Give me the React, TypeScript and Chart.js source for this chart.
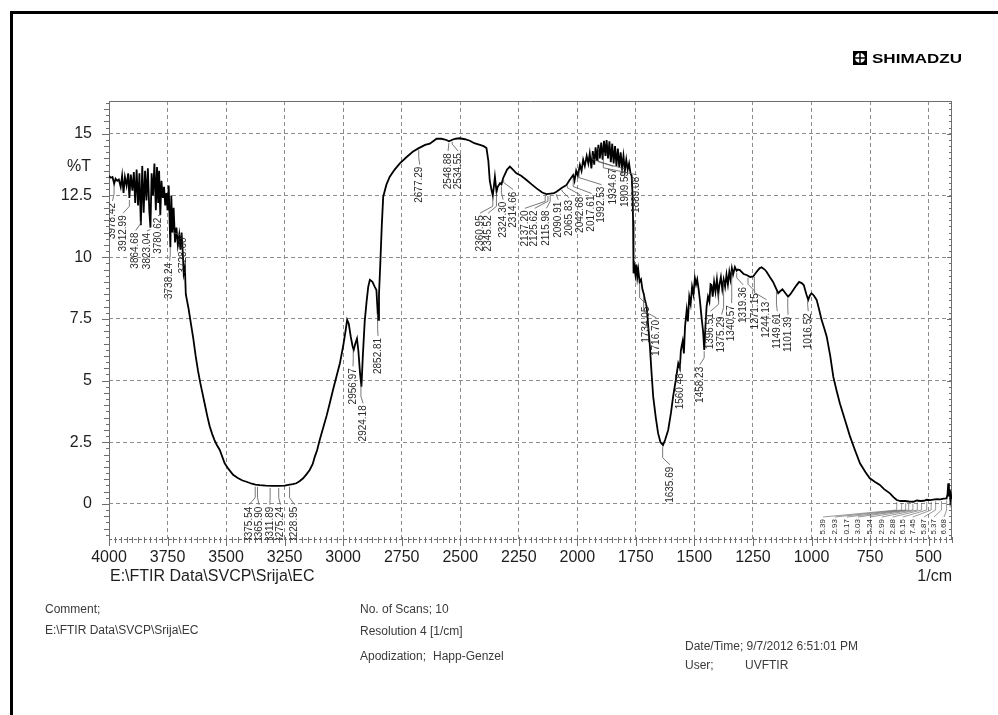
import React, { useEffect, useRef } from "react";
import { Chart, registerables } from "chart.js";
Chart.register(...registerables);

const FONT = "'Liberation Sans', Arial, sans-serif";

// ---- spectrum data: [wavenumber (1/cm), %T] ----
const highNoise: [number, number][] = [
  [4000, 13.3], [3992, 13.22], [3985, 13.25], [3978, 12.98], [3972, 13.18], [3965, 13.1], [3958, 13.15], [3950, 12.85],
  [3944, 13.3], [3938, 12.6], [3932, 13.25], [3925, 12.9], [3918, 13.4], [3913, 12.4], [3907, 13.35], [3900, 12.7],
  [3894, 13.45], [3888, 12.2], [3882, 13.55], [3876, 12.1], [3870, 13.4], [3864, 11.3], [3858, 13.7], [3852, 11.8],
  [3846, 13.5], [3840, 12.3], [3834, 13.6], [3828, 11.9], [3823, 11.2], [3818, 13.4], [3812, 12.5], [3806, 13.8],
  [3800, 11.9], [3795, 13.65], [3790, 12.2], [3786, 13.5], [3781, 11.7], [3776, 13.1], [3770, 12.4], [3765, 12.85],
  [3760, 12.1], [3755, 12.6], [3750, 11.9], [3745, 12.9], [3738, 10.4], [3734, 12.5], [3729, 11.0], [3724, 12.0],
  [3718, 10.6], [3712, 11.2], [3706, 10.5], [3700, 10.9], [3695, 10.3], [3690, 11.0],
];
const ohBand: [number, number][] = [
  [3685, 10.2], [3681, 9.35], [3676, 9.6], [3672, 8.5], [3668, 8.3], [3660, 7.9], [3650, 7.3], [3640, 6.7],
  [3630, 6.0], [3620, 5.4], [3610, 4.9], [3600, 4.45], [3590, 4.0], [3580, 3.55], [3570, 3.15], [3560, 2.85],
  [3550, 2.6], [3540, 2.4], [3527, 2.19], [3506, 1.65], [3490, 1.42], [3470, 1.18], [3450, 1.05], [3430, 0.95],
  [3413, 0.9], [3390, 0.82], [3375, 0.78], [3356, 0.76], [3330, 0.74], [3300, 0.73], [3275, 0.73], [3250, 0.74],
  [3228, 0.78], [3215, 0.8], [3200, 0.84], [3185, 0.93], [3171, 1.04], [3157, 1.2], [3143, 1.38], [3130, 1.62],
  [3121, 1.92], [3111, 2.19], [3100, 2.6], [3085, 3.1], [3070, 3.6], [3057, 4.09], [3040, 4.75], [3025, 5.3],
  [3014, 5.7], [3000, 6.4], [2990, 7.0],
];
const chBand: [number, number][] = [
  [2983, 7.46], [2976, 7.3], [2968, 6.8], [2960, 6.4], [2955, 6.24], [2948, 6.5], [2941, 6.7], [2935, 6.2],
  [2928, 5.3], [2922, 4.75], [2916, 6.0], [2908, 7.4], [2900, 8.2], [2893, 8.8], [2886, 9.08], [2875, 9.0],
  [2865, 8.8], [2858, 8.67], [2854, 8.0], [2851, 7.46], [2847, 8.5], [2842, 9.6], [2835, 11.3], [2829, 12.45],
  [2815, 12.95], [2801, 13.26],
];
const plateau: [number, number][] = [
  [2780, 13.55], [2758, 13.8], [2730, 14.05], [2703, 14.27], [2677, 14.42], [2650, 14.55], [2630, 14.6], [2601, 14.8],
  [2580, 14.8], [2559, 14.75], [2548, 14.7], [2534, 14.76], [2520, 14.8], [2502, 14.82], [2480, 14.78], [2459, 14.72],
  [2440, 14.62], [2416, 14.55], [2400, 14.5], [2388, 14.42],
];
const co2Region: [number, number][] = [
  [2380, 13.9], [2374, 13.1], [2366, 12.7], [2361, 12.5], [2356, 12.9], [2352, 13.26], [2348, 12.9], [2345, 12.65],
  [2340, 12.85], [2330, 13.0], [2324, 12.95], [2317, 13.2], [2310, 13.35], [2300, 13.55], [2288, 13.67], [2275, 13.55],
  [2260, 13.4], [2240, 13.3], [2217, 13.13], [2195, 12.95], [2174, 12.79], [2150, 12.62], [2132, 12.56], [2115, 12.58],
  [2100, 12.6], [2089, 12.65], [2070, 12.78], [2060, 12.85], [2046, 12.93], [2035, 13.1], [2018, 13.33], [2012, 13.1],
  [2005, 13.5], [1998, 13.3], [1989, 13.74], [1982, 13.5], [1975, 13.95], [1968, 13.7], [1960, 14.1], [1953, 13.8],
  [1947, 14.2],
];
const overtoneNoise: [number, number][] = [
  [1940, 13.6], [1934, 14.3], [1928, 13.75], [1922, 14.45], [1916, 13.9], [1910, 14.55], [1904, 14.0], [1898, 14.65],
  [1892, 13.95], [1886, 14.72], [1880, 14.1], [1875, 14.75], [1869, 14.0], [1863, 14.7], [1857, 13.85], [1851, 14.6],
  [1845, 13.8], [1839, 14.5], [1833, 13.7], [1827, 14.4], [1821, 13.65], [1815, 14.25], [1809, 13.6], [1803, 14.1],
  [1797, 13.5], [1791, 13.95], [1785, 13.55], [1779, 13.8], [1773, 13.4], [1768, 13.3],
];
const carbonyl: [number, number][] = [
  [1764, 12.5], [1762, 11.5], [1760, 9.35], [1756, 9.6], [1752, 9.3], [1748, 9.7], [1744, 9.2], [1740, 9.5],
  [1734, 9.0], [1728, 9.1], [1722, 8.7], [1716, 8.5], [1712, 8.3], [1704, 8.0], [1698, 7.3], [1690, 6.37],
  [1683, 5.3], [1676, 4.35], [1665, 3.5], [1655, 2.86], [1645, 2.5], [1634, 2.39], [1625, 2.6], [1612, 3.0],
  [1600, 3.7], [1591, 4.35], [1580, 5.0], [1569, 5.7], [1562, 5.5], [1558, 6.2], [1555, 6.37], [1550, 6.6],
  [1545, 6.1], [1540, 7.2], [1533, 7.86], [1528, 7.4], [1522, 8.4], [1516, 8.1], [1510, 8.8], [1504, 8.5],
  [1498, 9.15], [1493, 8.9], [1488, 9.1], [1482, 8.7], [1476, 8.2], [1470, 7.6], [1463, 7.0], [1458, 6.24],
  [1453, 7.2], [1448, 8.0],
];
const fingerprint: [number, number][] = [
  [1442, 8.4], [1436, 8.2], [1431, 8.9], [1427, 8.87], [1422, 8.4], [1416, 9.0], [1410, 8.6], [1404, 9.1],
  [1398, 8.5], [1393, 8.9], [1387, 9.2], [1381, 8.7], [1375, 9.1], [1369, 8.8], [1363, 9.3], [1357, 8.9],
  [1351, 9.4], [1346, 9.1], [1340, 9.55], [1335, 9.3], [1327, 9.6], [1320, 9.45], [1315, 9.5], [1306, 9.48],
  [1290, 9.32], [1277, 9.28], [1262, 9.2], [1249, 9.22], [1235, 9.4], [1222, 9.55], [1213, 9.59], [1200, 9.5],
  [1192, 9.41], [1178, 9.2], [1164, 9.0], [1152, 8.75], [1142, 8.54], [1134, 8.62], [1124, 8.7], [1112, 8.55],
  [1100, 8.4], [1090, 8.5], [1078, 8.67], [1065, 8.85], [1053, 9.0], [1042, 8.95], [1033, 8.87], [1022, 8.5],
  [1014, 8.27], [1007, 8.45], [1000, 8.54], [990, 8.45], [978, 8.27], [968, 7.9], [957, 7.46], [945, 7.1],
  [935, 6.78],
];
const tail: [number, number][] = [
  [920, 6.0], [907, 5.16], [893, 4.6], [879, 4.08], [857, 3.4], [836, 2.75], [815, 2.2], [793, 1.65],
  [770, 1.3], [751, 1.04], [730, 0.9], [708, 0.77], [690, 0.6], [665, 0.43], [650, 0.28], [636, 0.16],
  [620, 0.12], [600, 0.12], [585, 0.1], [565, 0.09], [550, 0.14], [535, 0.12], [520, 0.13], [508, 0.17],
  [494, 0.16], [480, 0.18], [465, 0.2], [450, 0.19], [436, 0.22], [423, 0.23], [419, 0.4], [416, 0.84],
  [413, 0.3], [410, 0.6], [407, 0.16], [404, 0.35], [401, 0.2],
];

const spectrum: [number, number][] = [
  ...highNoise, ...ohBand, ...chBand, ...plateau, ...co2Region, ...overtoneNoise, ...carbonyl, ...fingerprint, ...tail,
];

// ---- axes ----
const xTickValues = [4000, 3750, 3500, 3250, 3000, 2750, 2500, 2250, 2000, 1750, 1500, 1250, 1000, 750, 500];
const yTickValues = [0, 2.5, 5, 7.5, 10, 12.5, 15];
const xMin = 400, xMax = 4000, yMin = -1.46, yMax = 16.33;

// ---- peak labels ----
const peakLabelText = [
  "3978.42", "3912.99", "3864.68", "3823.04", "3780.62", "3738.24", "3728.60",
  "3375.54", "3365.90", "3311.89", "3275.24", "3228.95",
  "2956.97", "2924.18", "2852.81",
  "2677.29", "2548.88", "2534.55",
  "2360.95", "2345.52", "2324.30", "2314.66",
  "2137.20", "2125.62", "2115.98", "2090.91", "2065.83", "2042.68", "2017.61", "1992.53", "1934.67", "1909.59", "1889.08",
  "1734.05", "1716.70", "1635.69", "1560.48", "1458.23",
  "1396.51", "1375.29", "1340.57", "1319.36", "1271.15", "1244.13", "1149.61", "1101.39", "1016.52",
];
const peakLabelPosWn = [
  3985, 3940, 3886, 3838, 3791, 3741, 3684,
  3402, 3359, 3313, 3268, 3207,
  2958, 2915, 2851,
  2673, 2552, 2509,
  2416, 2381, 2317, 2274,
  2224, 2182, 2132, 2082, 2035, 1989, 1939, 1897, 1847, 1797, 1747,
  1704, 1662, 1605, 1562, 1477,
  1431, 1384, 1341, 1292, 1242, 1192, 1146, 1100, 1014,
];
const peakLabelTopT = [
  12.2, 11.7, 11.0, 10.98, 11.6, 9.77, 10.8,
  -0.11, -0.11, -0.11, -0.11, -0.11,
  5.5, 4.0, 6.73,
  13.67, 14.22, 14.22,
  11.7, 11.7, 12.25, 12.66,
  11.9, 11.9, 11.9, 12.25, 12.32, 12.45, 12.5, 12.86, 13.6, 13.5, 13.26,
  8.0, 7.46, 1.51, 5.3, 5.56,
  7.73, 7.6, 8.06, 8.8, 8.54, 8.2, 7.73, 7.59, 7.73,
];

// small (clipped) labels of the low-frequency end
const tailLabelText = ["5.39", "2.93", "0.17", "3.03", "5.24", "2.99", "2.88", "6.15", "7.45", "5.87", "5.37", "6.68"];
const tailLabelPeakWn = [636, 615, 598, 585, 567, 548, 530, 508, 489, 470, 445, 423];
const tailLabelPosWn = [951, 900, 849, 802, 751, 700, 653, 610, 568, 520, 477, 434];
const tailLabelTopT = -0.61;

function tAt(wn: number): number {
  for (let i = 0; i < spectrum.length - 1; i++) {
    const [w0, t0] = spectrum[i];
    const [w1, t1] = spectrum[i + 1];
    if (wn <= w0 && wn >= w1) {
      const f = (w0 - wn) / (w0 - w1 || 1);
      return t0 + (t1 - t0) * f;
    }
  }
  return spectrum[spectrum.length - 1][1];
}

function line(ctx: CanvasRenderingContext2D, x0: number, y0: number, x1: number, y1: number) {
  ctx.beginPath();
  ctx.moveTo(x0, y0);
  ctx.lineTo(x1, y1);
  ctx.stroke();
}

function drawPeakLabel(ctx: CanvasRenderingContext2D, text: string, px: number, py: number, lx: number, ly: number) {
  const y0 = py + 2;
  const y1 = ly - 2;
  ctx.beginPath();
  ctx.moveTo(px, y0);
  if (y1 - 7 > y0) ctx.lineTo(px, y1 - 7);
  ctx.lineTo(lx, y1);
  ctx.stroke();
  ctx.save();
  ctx.translate(lx, ly);
  ctx.rotate(-Math.PI / 2);
  ctx.textAlign = "right";
  ctx.textBaseline = "middle";
  ctx.fillText(text, 0, 0);
  ctx.restore();
}

const decorPlugin = {
  id: "decor",
  beforeDatasetsDraw(chart: any) {
    const { ctx, chartArea: a, scales } = chart;
    const x = scales.x, y = scales.y;
    ctx.save();
    ctx.strokeStyle = "#6e6e6e";
    ctx.lineWidth = 1;
    line(ctx, a.left + 0.5, a.top, a.left + 0.5, a.bottom);
    line(ctx, a.right - 0.5, a.top, a.right - 0.5, a.bottom);
    line(ctx, a.left, a.top + 0.5, a.right, a.top + 0.5);
    ctx.setLineDash([3, 2]);
    line(ctx, a.left, a.bottom - 0.5, a.right, a.bottom - 0.5);
    ctx.setLineDash([]);
    for (let k = -5; k <= 65; k++) {
      const v = k * 0.25;
      if (v < yMin || v > yMax) continue;
      const py = Math.round(y.getPixelForValue(v)) + 0.5;
      const major = k % 10 === 0;
      const mid = k % 2 === 0;
      const len = major ? 7 : mid ? 5 : 3;
      line(ctx, a.left - len, py, a.left, py);
      line(ctx, a.right - (major ? 5 : 3), py, a.right, py);
    }
    for (let v = xMin; v <= xMax; v += 25) {
      const px = Math.round(x.getPixelForValue(v)) + 0.5;
      const major = v % 250 === 0;
      line(ctx, px, a.bottom - 3, px, a.bottom + (major ? 6 : 3));
    }
    ctx.restore();
  },
  afterDatasetsDraw(chart: any) {
    const { ctx, chartArea: a, scales } = chart;
    const x = scales.x, y = scales.y;
    ctx.save();
    ctx.beginPath();
    ctx.rect(a.left, a.top, a.right - a.left, a.bottom - a.top);
    ctx.clip();
    ctx.strokeStyle = "#555";
    ctx.lineWidth = 0.8;
    ctx.fillStyle = "#2a2a2a";
    ctx.font = `10px ${FONT}`;
    peakLabelText.forEach((txt, i) => {
      const wn = parseFloat(txt);
      const px = x.getPixelForValue(wn);
      const py = y.getPixelForValue(tAt(wn));
      const lx = x.getPixelForValue(peakLabelPosWn[i]);
      const ly = y.getPixelForValue(peakLabelTopT[i]);
      drawPeakLabel(ctx, txt, px, py, lx, ly);
    });
    ctx.font = `8px ${FONT}`;
    ctx.lineWidth = 0.6;
    tailLabelText.forEach((txt, i) => {
      const wn = tailLabelPeakWn[i];
      const px = x.getPixelForValue(wn);
      const py = y.getPixelForValue(tAt(wn));
      const lx = x.getPixelForValue(tailLabelPosWn[i]);
      const ly = y.getPixelForValue(tailLabelTopT);
      drawPeakLabel(ctx, txt, px, py, lx, ly);
    });
    ctx.restore();
  },
  afterDraw(chart: any) {
    const { ctx, chartArea: a } = chart;
    ctx.save();
    ctx.fillStyle = "#000";
    ctx.fillRect(10, 11, 3, 715);
    ctx.fillRect(10, 11, 998, 3);

    ctx.fillStyle = "#1e1e1e";
    ctx.textBaseline = "middle";
    ctx.font = `16px ${FONT}`;
    ctx.textAlign = "center";
    ctx.fillText("%T", 79, 167);
    ctx.textAlign = "left";
    ctx.fillText("E:\\FTIR Data\\SVCP\\Srija\\EC", a.left + 1, 577);
    ctx.textAlign = "right";
    ctx.fillText("1/cm", a.right, 577);

    ctx.fillStyle = "#3a3a3a";
    ctx.font = `12px ${FONT}`;
    ctx.textAlign = "left";
    ctx.fillText("Comment;", 45, 610);
    ctx.fillText("E:\\FTIR Data\\SVCP\\Srija\\EC", 45, 631);
    ctx.fillText("No. of Scans; 10", 360, 610);
    ctx.fillText("Resolution", 360, 632);
    ctx.fillText("4 [1/cm]", 420, 632);
    ctx.fillText("Apodization;", 360, 657);
    ctx.fillText("Happ-Genzel", 433, 657);
    ctx.fillText("Date/Time; 9/7/2012 6:51:01 PM", 685, 647);
    ctx.fillText("User;", 685, 666);
    ctx.fillText("UVFTIR", 745, 666);

    ctx.fillStyle = "#000";
    ctx.fillRect(853, 51, 14, 14);
    ctx.fillStyle = "#fff";
    ctx.beginPath();
    ctx.arc(860, 58, 5, 0, Math.PI * 2);
    ctx.fill();
    ctx.strokeStyle = "#000";
    ctx.lineWidth = 1.5;
    line(ctx, 855, 58, 865, 58);
    line(ctx, 860, 53, 860, 63);
    ctx.fillStyle = "#000";
    ctx.font = `bold 13px ${FONT}`;
    ctx.textAlign = "left";
    const w = ctx.measureText("SHIMADZU").width;
    ctx.translate(872, 58);
    ctx.scale(90 / w, 1);
    ctx.fillText("SHIMADZU", 0, 1);
    ctx.restore();
  },
};

export default function App() {
  const ref = useRef<HTMLCanvasElement>(null);
  useEffect(() => {
    if (!ref.current) return;
    const chart = new Chart(ref.current, {
      type: "line",
      data: {
        datasets: [
          {
            data: spectrum.map(([wn, t]) => ({ x: wn, y: t })),
            borderColor: "#000",
            borderWidth: 1.8,
            pointRadius: 0,
            tension: 0,
            fill: false,
          },
        ],
      },
      options: {
        animation: false,
        responsive: false,
        devicePixelRatio: 1,
        events: [],
        layout: { padding: { left: 0, top: 101, right: 46, bottom: 115 } },
        plugins: { legend: { display: false }, tooltip: { enabled: false } },
        scales: {
          x: {
            type: "linear",
            reverse: true,
            min: xMin,
            max: xMax,
            afterBuildTicks: (s: any) => {
              s.ticks = xTickValues.map((v) => ({ value: v }));
            },
            afterFit: (s: any) => {
              s.height = 60;
            },
            ticks: {
              color: "#1e1e1e",
              font: { family: FONT, size: 16 },
              padding: 8,
              maxRotation: 0,
              autoSkip: false,
              callback: (v: any) => String(v),
            },
            grid: { color: "#8c8c8c", lineWidth: 1, drawTicks: false },
            border: { display: false, dash: [4, 3] },
          },
          y: {
            type: "linear",
            min: yMin,
            max: yMax,
            afterBuildTicks: (s: any) => {
              s.ticks = yTickValues.map((v) => ({ value: v }));
            },
            afterFit: (s: any) => {
              s.width = 109;
            },
            ticks: {
              color: "#1e1e1e",
              font: { family: FONT, size: 16 },
              padding: 17,
              autoSkip: false,
              callback: (v: any) => String(v),
            },
            grid: { color: "#8c8c8c", lineWidth: 1, drawTicks: false },
            border: { display: false, dash: [4, 3] },
          },
        },
      },
      plugins: [decorPlugin],
    } as any);
    return () => chart.destroy();
  }, []);
  return (
    <div style={{ position: "absolute", left: 0, top: 0, width: 998, height: 715, background: "#fff", overflow: "hidden" }}>
      <canvas ref={ref} width={998} height={715} style={{ display: "block", width: 998, height: 715 }} />
    </div>
  );
}
